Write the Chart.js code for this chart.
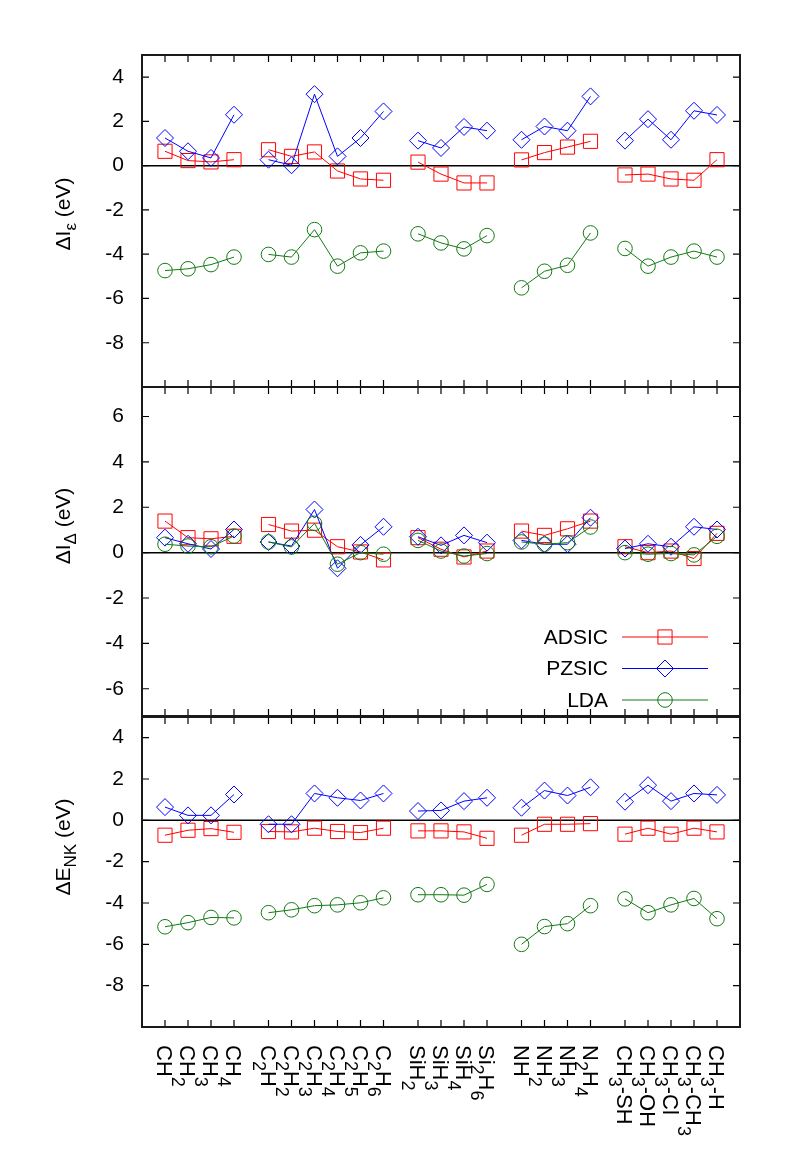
<!DOCTYPE html>
<html>
<head>
<meta charset="utf-8">
<script src="https://cdn.jsdelivr.net/npm/chart.js@4.4.1/dist/chart.umd.min.js"></script>
<style>
body { margin: 0; background: #fff; }
#wrap { position: relative; width: 789px; height: 1159px; }
canvas { position: absolute; left: 0; }
</style>
</head>
<body>
<div id="wrap">
<canvas id="c1" width="789" height="420" style="top:0px"></canvas>
<canvas id="c2" width="789" height="395" style="top:354px"></canvas>
<canvas id="c3" width="789" height="475" style="top:684px"></canvas>
</div>
<script>
// molecules, "_" marks a subscript
const molecules = ['CH', 'CH_2', 'CH_3', 'CH_4',
  'C_2H', 'C_2H_2', 'C_2H_3', 'C_2H_4', 'C_2H_5', 'C_2H_6',
  'SiH_2', 'SiH_3', 'SiH_4', 'Si_2H_6',
  'NH', 'NH_2', 'NH_3', 'N_2H_4',
  'CH_3-SH', 'CH_3-OH', 'CH_3-Cl', 'CH_3-CH_3', 'CH_3-H'];
const xPos = [1, 2, 3, 4, 5.5, 6.5, 7.5, 8.5, 9.5, 10.5, 12, 13, 14, 15,
  16.5, 17.5, 18.5, 19.5, 21, 22, 23, 24, 25];

const seriesNames = ['ADSIC', 'PZSIC', 'LDA'];

// top panel: Delta I_eps
const epsADSIC = [0.65, 0.23, 0.17, 0.27, 0.72, 0.42, 0.62, -0.24, -0.6, -0.66,
  0.16, -0.38, -0.78, -0.78, 0.26, 0.59, 0.84, 1.1, -0.42, -0.38, -0.6, -0.66, 0.27];
const epsPZSIC = [1.25, 0.65, 0.35, 2.3, 0.27, 0.02, 3.23, 0.42, 1.25, 2.45,
  1.13, 0.8, 1.75, 1.58, 1.17, 1.77, 1.58, 3.13, 1.13, 2.1, 1.17, 2.48, 2.29];
const epsLDA = [-4.74, -4.66, -4.47, -4.13, -4.01, -4.13, -2.89, -4.54, -3.94, -3.86,
  -3.08, -3.49, -3.76, -3.16, -5.52, -4.77, -4.5, -3.04, -3.74, -4.54, -4.13, -3.86, -4.13];

// middle panel: Delta I_Delta
const dltADSIC = [1.39, 0.66, 0.61, 0.72, 1.24, 0.95, 0.99, 0.26, 0.03, -0.32,
  0.66, 0.15, -0.19, 0.07, 0.95, 0.76, 1.05, 1.39, 0.26, 0.0, 0.07, -0.26, 0.85];
const dltPZSIC = [0.66, 0.39, 0.16, 1.02, 0.47, 0.29, 1.9, -0.69, 0.34, 1.14,
  0.7, 0.32, 0.76, 0.44, 0.54, 0.37, 0.37, 1.54, 0.18, 0.39, 0.26, 1.14, 1.02];
const dltLDA = [0.37, 0.29, 0.26, 0.73, 0.47, 0.25, 1.29, -0.51, 0.0, -0.07,
  0.54, 0.07, -0.15, -0.04, 0.47, 0.37, 0.44, 1.13, 0.0, -0.07, -0.04, -0.1, 0.72];

// bottom panel: Delta E_NK
const nkADSIC = [-0.72, -0.48, -0.4, -0.58, -0.54, -0.56, -0.38, -0.54, -0.59, -0.38,
  -0.51, -0.51, -0.56, -0.87, -0.72, -0.19, -0.19, -0.16, -0.67, -0.38, -0.67, -0.38, -0.56];
const nkPZSIC = [0.64, 0.24, 0.24, 1.25, -0.19, -0.19, 1.3, 1.09, 0.96, 1.3,
  0.45, 0.48, 0.93, 1.09, 0.61, 1.44, 1.2, 1.6, 0.9, 1.7, 0.93, 1.3, 1.23];
const nkLDA = [-5.15, -4.95, -4.7, -4.72, -4.47, -4.33, -4.13, -4.09, -3.99, -3.75,
  -3.6, -3.6, -3.62, -3.1, -6.0, -5.14, -5.0, -4.13, -3.8, -4.47, -4.09, -3.78, -4.76];

const epsTicks = [-8, -6, -4, -2, 0, 2, 4];
const dltTicks = [-6, -4, -2, 0, 2, 4, 6];
const nkTicks = [-8, -6, -4, -2, 0, 2, 4];

const FONT = '"Liberation Sans", Arial, Helvetica, sans-serif';
const styles = [
  { color: '#ff0000', pointStyle: 'rect', radius: 10 },
  { color: '#0000ff', pointStyle: 'rectRot', radius: 8.5 },
  { color: '#127a12', pointStyle: 'circle', radius: 7.3 }
];

// break the line between molecule groups
function toPoints(vals) {
  const pts = [];
  vals.forEach((v, i) => {
    if (i > 0 && xPos[i] - xPos[i - 1] > 1) pts.push({ x: (xPos[i] + xPos[i - 1]) / 2, y: null });
    pts.push({ x: xPos[i], y: v });
  });
  return pts;
}

function parseRich(s) {
  const parts = [];
  for (let i = 0; i < s.length; i++) {
    if (s[i] === '_') {
      let t;
      if (s[i + 1] === '{') { const j = s.indexOf('}', i); t = s.slice(i + 2, j); i = j; }
      else { t = s[i + 1]; i++; }
      parts.push({ t, sub: true });
    } else {
      if (parts.length && !parts[parts.length - 1].sub) parts[parts.length - 1].t += s[i];
      else parts.push({ t: s[i], sub: false });
    }
  }
  return parts;
}

function drawRich(ctx, parts, size, subSize, subShift, center) {
  let w = 0;
  parts.forEach(p => { ctx.font = (p.sub ? subSize : size) + 'px ' + FONT; w += ctx.measureText(p.t).width; });
  let x = center ? -w / 2 : 0;
  const base = size * 0.36;
  ctx.textAlign = 'left';
  ctx.textBaseline = 'alphabetic';
  parts.forEach(p => {
    ctx.font = (p.sub ? subSize : size) + 'px ' + FONT;
    ctx.fillText(p.t, x, p.sub ? base + subShift : base);
    x += ctx.measureText(p.t).width;
  });
}

const panelPlugin = {
  id: 'panel',
  beforeDatasetsDraw(chart, args, o) {
    const { ctx, chartArea: a, scales: { y } } = chart;
    const y0 = y.getPixelForValue(0);
    ctx.save();
    ctx.strokeStyle = '#000';
    ctx.lineWidth = 1.5;
    ctx.beginPath();
    ctx.moveTo(a.left, y0);
    ctx.lineTo(a.right, y0);
    ctx.stroke();
    ctx.restore();
  },
  afterDraw(chart, args, o) {
    const { ctx, chartArea: a, scales: { x, y } } = chart;
    ctx.save();
    // inward ticks on all four sides
    ctx.strokeStyle = '#000';
    ctx.lineWidth = 1.2;
    ctx.beginPath();
    xPos.forEach(v => {
      const px = x.getPixelForValue(v);
      ctx.moveTo(px, a.top); ctx.lineTo(px, a.top + 7);
      ctx.moveTo(px, a.bottom); ctx.lineTo(px, a.bottom - 7);
    });
    o.ticks.forEach(v => {
      const py = y.getPixelForValue(v);
      ctx.moveTo(a.left, py); ctx.lineTo(a.left + 7, py);
      ctx.moveTo(a.right, py); ctx.lineTo(a.right - 7, py);
    });
    ctx.stroke();
    ctx.lineWidth = 2;
    ctx.strokeStyle = '#1a1a1a';
    ctx.strokeRect(a.left, a.top, a.right - a.left, a.bottom - a.top);

    // y title
    ctx.fillStyle = '#000';
    ctx.save();
    ctx.translate(62, a.top + o.titleOffset);
    ctx.rotate(-Math.PI / 2);
    drawRich(ctx, parseRich(o.title), 21, 17, 6, true);
    ctx.restore();

    // legend
    if (o.legend) {
      chart.data.datasets.forEach((ds, i) => {
        const ly = a.top + 250 + i * 31.5;
        ctx.font = '21px ' + FONT;
        ctx.textAlign = 'right';
        ctx.textBaseline = 'middle';
        ctx.fillStyle = '#000';
        ctx.fillText(ds.label, a.right - 132, ly + 1);
        ctx.strokeStyle = ds.borderColor;
        ctx.lineWidth = 1;
        ctx.beginPath();
        ctx.moveTo(a.right - 118, ly);
        ctx.lineTo(a.right - 32, ly);
        ctx.stroke();
        ctx.fillStyle = 'rgba(0,0,0,0)';
        Chart.helpers.drawPoint(ctx, { pointStyle: ds.pointStyle, radius: ds.pointRadius, rotation: 0, borderWidth: 1 }, a.right - 75, ly);
      });
    }

    // rotated molecule labels
    if (o.xLabels) {
      ctx.fillStyle = '#000';
      molecules.forEach((m, i) => {
        ctx.save();
        ctx.translate(x.getPixelForValue(xPos[i]), a.bottom + 18);
        ctx.rotate(Math.PI / 2);
        drawRich(ctx, parseRich(m), 22, 18, 8, false);
        ctx.restore();
      });
    }
    ctx.restore();
  }
};

function makePanel(id, padTop, padBottom, yMin, yMax, ticks, sets, title, titleOffset, extra) {
  const datasets = sets.map((vals, i) => ({
    label: seriesNames[i],
    data: toPoints(vals),
    borderColor: styles[i].color,
    backgroundColor: 'rgba(0,0,0,0)',
    borderWidth: 1,
    pointStyle: styles[i].pointStyle,
    pointRadius: styles[i].radius,
    pointHoverRadius: styles[i].radius,
    pointBorderWidth: 1,
    pointHoverBorderWidth: 1,
    pointBackgroundColor: 'rgba(0,0,0,0)',
    pointHoverBackgroundColor: 'rgba(0,0,0,0)',
    pointBorderColor: styles[i].color,
    pointHoverBorderColor: styles[i].color,
    tension: 0,
    spanGaps: false,
    order: 3 - i
  }));
  return new Chart(document.getElementById(id), {
    type: 'line',
    data: { datasets },
    plugins: [panelPlugin],
    options: {
      responsive: false,
      animation: false,
      events: [],
      devicePixelRatio: 1,
      layout: { padding: { top: padTop, bottom: padBottom, left: 0, right: 49 } },
      scales: {
        x: { type: 'linear', min: 0, max: 26, display: false },
        y: {
          min: yMin, max: yMax,
          afterFit: s => { s.width = 142; },
          afterBuildTicks: s => { s.ticks = ticks.map(v => ({ value: v })); },
          grid: { display: false, drawTicks: false },
          border: { display: false },
          ticks: { color: '#000', padding: 18, font: { family: FONT, size: 21 } }
        }
      },
      plugins: {
        legend: { display: false },
        tooltip: { enabled: false },
        panel: Object.assign({ ticks, title, titleOffset }, extra)
      }
    }
  });
}

makePanel('c1', 55, 33, -10, 5, epsTicks, [epsADSIC, epsPZSIC, epsLDA], 'ΔI_ε (eV)', 159, {});
makePanel('c2', 33, 33, -7.2, 7.3, dltTicks, [dltADSIC, dltPZSIC, dltLDA], 'ΔI_Δ (eV)', 139, { legend: true });
makePanel('c3', 33, 132, -10, 5, nkTicks, [nkADSIC, nkPZSIC, nkLDA], 'ΔE_{NK} (eV)', 130, { xLabels: true });
</script>
</body>
</html>
